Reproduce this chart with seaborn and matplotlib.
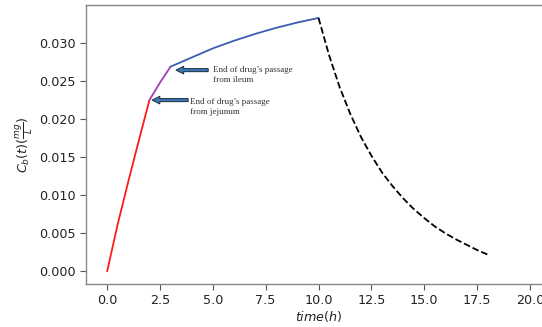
import matplotlib
matplotlib.use("Agg")
import matplotlib.pyplot as plt
import seaborn as sns
import pandas as pd

# Phase 1: jejunum (red)
t_jejunum = [0.0, 0.5, 1.0, 1.5, 2.0]
c_jejunum = [0.0, 0.0062, 0.0118, 0.0172, 0.0225]
# Phase 2: ileum (purple)
t_ileum = [2.0, 2.5, 3.0]
c_ileum = [0.0225, 0.0248, 0.0269]
# Phase 3: colon (blue)
t_colon = [3.0, 4.0, 5.0, 6.0, 7.0, 8.0, 9.0, 10.0]
c_colon = [0.0269, 0.0281, 0.0293, 0.0303, 0.0312, 0.0320, 0.0327, 0.0333]
# Elimination (black dashed)
t_elim = [10.0, 10.5, 11.0, 11.5, 12.0, 12.5, 13.0, 13.5, 14.0, 14.5, 15.0,
          15.5, 16.0, 16.5, 17.0, 17.5, 18.0]
c_elim = [0.0333, 0.0284, 0.0242, 0.0207, 0.0177, 0.0152, 0.0130, 0.0112,
          0.0096, 0.0082, 0.0070, 0.0059, 0.0050, 0.0042, 0.0035, 0.0028, 0.0022]

x_ticks = [0.0, 2.5, 5.0, 7.5, 10.0, 12.5, 15.0, 17.5, 20.0]
y_ticks = [0.000, 0.005, 0.010, 0.015, 0.020, 0.025, 0.030]

sns.set_style("ticks")
plt.rcParams['font.family'] = ['DejaVu Sans']

fig = plt.figure(figsize=(5.42, 3.27), dpi=100)
ax = fig.add_axes([0.1587, 0.1315, (551 - 86) / 542, 0.8532])

segments = [
    (t_jejunum, c_jejunum, "#ff1a1a", "-"),
    (t_ileum, c_ileum, "#a040b0", "-"),
    (t_colon, c_colon, "#3c5cb4", "-"),
    (t_elim, c_elim, "black", "--"),
]
for t, c, col, ls in segments:
    df = pd.DataFrame({"t": t, "c": c})
    sns.lineplot(data=df, x="t", y="c", ax=ax, color=col, linestyle=ls, linewidth=1.3)

ax.set_xlim(-1, 21)
ax.set_ylim(-0.00167, 0.0350)
ax.set_xticks(x_ticks)
ax.set_xticklabels([f"{v:.1f}" for v in x_ticks])
ax.set_yticks(y_ticks)
ax.set_yticklabels([f"{v:.3f}" for v in y_ticks])
ax.tick_params(labelsize=9.2, colors="#555555", labelcolor="#222222", length=4, width=0.8)
for s in ax.spines.values():
    s.set_color("#888888")
    s.set_linewidth(1.0)
ax.spines['right'].set_visible(False)

ax.set_xlabel(r"$time(h)$", fontsize=9.2, color="#222222", labelpad=1)
ax.set_ylabel(r"$C_b(t)(\frac{mg}{L})$", fontsize=9.2, color="#222222", labelpad=3)

arrow_props = dict(arrowstyle="simple,head_width=0.55,head_length=0.55,tail_width=0.22",
                   fc="#3a78b5", ec="#1c2b40", lw=0.7, shrinkA=0, shrinkB=0)
ax.annotate("", xy=(3.26, 0.02644), xytext=(4.78, 0.02644), arrowprops=arrow_props)
ax.annotate("", xy=(2.13, 0.0225), xytext=(3.83, 0.0225), arrowprops=arrow_props)
ax.text(5.0, 0.0258, "End of drug’s passage\nfrom ileum", family="Liberation Serif",
        fontsize=6.5, color="#333333", va="center", ha="left", linespacing=1.4)
ax.text(3.92, 0.0216, "End of drug’s passage\nfrom jejunum", family="Liberation Serif",
        fontsize=6.5, color="#333333", va="center", ha="left", linespacing=1.4)

fig.savefig("out.png", dpi=100)
